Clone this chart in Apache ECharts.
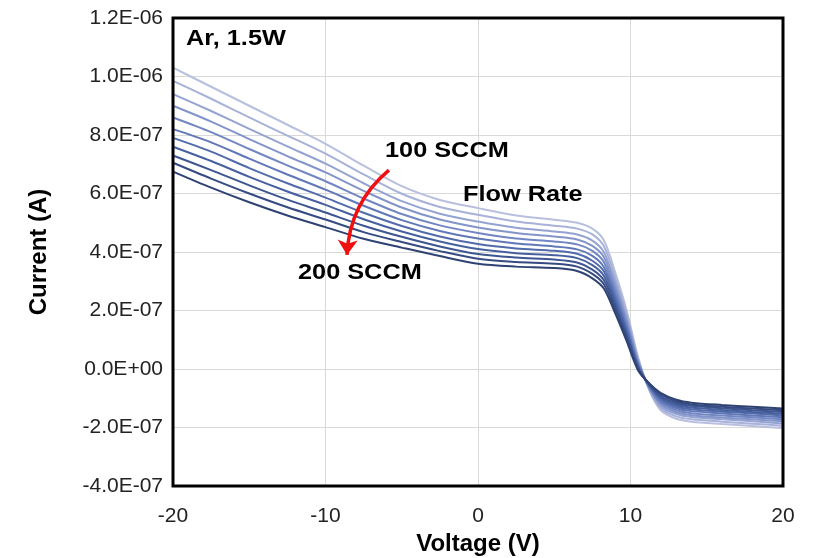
<!DOCTYPE html>
<html>
<head>
<meta charset="utf-8">
<script src="https://cdn.jsdelivr.net/npm/echarts@6/dist/echarts.min.js"></script>
<style>
  html, body { margin: 0; padding: 0; background: #fff; }
  #chart { width: 820px; height: 558px; }
</style>
</head>
<body>
<div id="chart"></div>
<script>
// Probe bias voltage (V)
const voltage = [-20, -17.5, -15, -12.5, -10, -7.5, -5, -2.5, 0, 2.5, 5, 6.5, 7.5, 8.25, 9, 9.75, 10.5, 11.25, 12, 13, 14, 16, 18, 20];

// Gas flow rates (SCCM)
const flowRates = [100, 110, 120, 130, 140, 150, 160, 170, 180, 190, 200];

// Measured current per flow rate, in units of 1e-7 A
const i100 = [10.3, 9.65, 9.0, 8.35, 7.7, 6.95, 6.25, 5.78, 5.5, 5.25, 5.1, 5.0, 4.8, 4.4, 3.3, 2.0, 0.4, -0.75, -1.42, -1.7, -1.8, -1.88, -1.95, -2.02];
const i110 = [9.85, 9.24, 8.60, 7.98, 7.36, 6.65, 5.99, 5.54, 5.27, 5.04, 4.90, 4.80, 4.60, 4.20, 3.13, 1.87, 0.35, -0.72, -1.35, -1.62, -1.72, -1.80, -1.87, -1.94];
const i120 = [9.4, 8.82, 8.21, 7.61, 7.02, 6.35, 5.74, 5.31, 5.04, 4.83, 4.70, 4.60, 4.39, 4.00, 2.96, 1.75, 0.29, -0.69, -1.28, -1.54, -1.64, -1.72, -1.79, -1.86];
const i130 = [9.0, 8.46, 7.86, 7.28, 6.72, 6.09, 5.52, 5.11, 4.84, 4.65, 4.53, 4.43, 4.21, 3.83, 2.82, 1.64, 0.25, -0.66, -1.21, -1.48, -1.58, -1.66, -1.72, -1.79];
const i140 = [8.6, 8.10, 7.52, 6.96, 6.42, 5.83, 5.30, 4.91, 4.65, 4.46, 4.36, 4.26, 4.04, 3.66, 2.67, 1.53, 0.20, -0.64, -1.15, -1.41, -1.51, -1.59, -1.65, -1.72];
const i150 = [8.2, 7.75, 7.19, 6.65, 6.13, 5.58, 5.09, 4.72, 4.46, 4.29, 4.19, 4.09, 3.87, 3.49, 2.53, 1.42, 0.15, -0.61, -1.09, -1.34, -1.44, -1.52, -1.59, -1.65];
const i160 = [7.9, 7.43, 6.87, 6.35, 5.86, 5.34, 4.89, 4.53, 4.27, 4.12, 4.04, 3.94, 3.70, 3.34, 2.40, 1.32, 0.11, -0.59, -1.03, -1.28, -1.38, -1.46, -1.52, -1.59];
const i170 = [7.6, 7.11, 6.57, 6.07, 5.61, 5.12, 4.70, 4.36, 4.10, 3.96, 3.89, 3.79, 3.55, 3.19, 2.27, 1.23, 0.07, -0.57, -0.98, -1.22, -1.32, -1.40, -1.47, -1.53];
const i180 = [7.3, 6.80, 6.28, 5.79, 5.35, 4.90, 4.52, 4.19, 3.93, 3.81, 3.74, 3.64, 3.40, 3.04, 2.15, 1.13, 0.03, -0.54, -0.93, -1.16, -1.26, -1.34, -1.41, -1.47];
const i190 = [7.05, 6.51, 6.0, 5.53, 5.11, 4.68, 4.34, 4.03, 3.77, 3.66, 3.60, 3.50, 3.25, 2.90, 2.03, 1.04, -0.01, -0.52, -0.87, -1.11, -1.21, -1.29, -1.35, -1.41];
const i200 = [6.75, 6.2, 5.7, 5.25, 4.85, 4.45, 4.15, 3.86, 3.6, 3.5, 3.45, 3.35, 3.1, 2.75, 1.9, 0.95, -0.05, -0.5, -0.82, -1.05, -1.15, -1.23, -1.29, -1.35];

const currents = [i100, i110, i120, i130, i140, i150, i160, i170, i180, i190, i200];

// Flow-rate arrow, from the 100 SCCM label down to the 200 SCCM label: [V, A]
const arrowStart = [-5.84, 6.8e-7];
const arrowEnd = [-8.59, 3.9e-7];

// Light (low flow) to dark (high flow) blue ramp
const palette = ['#B9BFDE', '#A7B1D9', '#95A3D2', '#8394CA', '#7186C2', '#6078B8', '#526BAC', '#46609F', '#3D5591', '#354B82', '#2E4273'];

const FONT = '"Liberation Sans", Arial, sans-serif';

function sciLabel(v) {
  if (Math.abs(v) < 1e-12) return '0.0E+00';
  const parts = v.toExponential(1).split('e');
  const exp = parseInt(parts[1], 10);
  const sign = exp < 0 ? '-' : '+';
  return parts[0] + 'E' + sign + String(Math.abs(exp)).padStart(2, '0');
}

const series = currents.map((vals, k) => ({
  name: flowRates[k] + ' SCCM',
  type: 'line',
  smooth: 0.3,
  showSymbol: false,
  data: voltage.map((v, j) => [v, vals[j] * 1e-7]),
  lineStyle: { width: 2, color: palette[k] },
  itemStyle: { color: palette[k] },
  z: 2
}));

series.push({
  type: 'lines',
  coordinateSystem: 'cartesian2d',
  z: 5,
  symbol: ['none', 'arrow'],
  symbolSize: [0, 15],
  lineStyle: { color: '#F01010', width: 3.5, curveness: -0.22, opacity: 1 },
  data: [{ coords: [arrowStart, arrowEnd] }]
});

const chart = echarts.init(document.getElementById('chart'), null, { renderer: 'canvas' });

// Bold annotation text, slightly widened
function note(text, x, y) {
  return {
    type: 'text', x: x, y: y, scaleX: 1.15, z: 20,
    style: { text: text, font: 'bold 22px ' + FONT, fill: '#000' }
  };
}

chart.setOption({
  animation: false,
  backgroundColor: '#fff',
  grid: {
    left: 173, right: 37, top: 18, bottom: 72,
    outerBoundsMode: 'none',
    show: true, borderColor: '#000', borderWidth: 3, backgroundColor: 'transparent', z: 10
  },
  xAxis: {
    type: 'value', min: -20, max: 20, interval: 10,
    name: 'Voltage (V)', nameLocation: 'middle', nameGap: 45,
    nameTextStyle: { fontFamily: FONT, fontSize: 24, fontWeight: 'bold', color: '#000' },
    axisLine: { show: false }, axisTick: { show: false },
    axisLabel: { fontFamily: FONT, fontSize: 21, color: '#222', margin: 20 },
    splitLine: { show: true, lineStyle: { color: '#D9D9D9', width: 1 } }
  },
  yAxis: {
    type: 'value', min: -4e-7, max: 1.2e-6, interval: 2e-7,
    name: 'Current (A)', nameLocation: 'middle', nameGap: 122,
    nameTextStyle: { fontFamily: FONT, fontSize: 24, fontWeight: 'bold', color: '#000' },
    axisLine: { show: false }, axisTick: { show: false },
    axisLabel: { fontFamily: FONT, fontSize: 21, color: '#222', margin: 10, formatter: sciLabel },
    splitLine: { show: true, lineStyle: { color: '#D9D9D9', width: 1 } }
  },
  graphic: [
    note('Ar, 1.5W', 186, 28),
    note('100 SCCM', 385, 140),
    note('Flow Rate', 463, 184),
    note('200 SCCM', 298, 262)
  ],
  series: series
});
</script>
</body>
</html>
